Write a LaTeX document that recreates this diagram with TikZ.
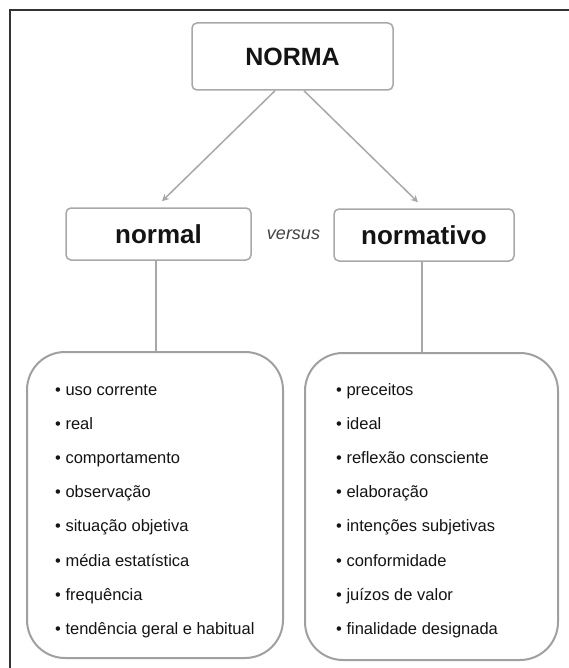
\documentclass[tikz,border=0pt]{standalone}
\usepackage{fontspec}
\setmainfont{Liberation Sans}
\usetikzlibrary{arrows.meta}
\definecolor{boxgray}{HTML}{A8A8A8}
\definecolor{listgray}{HTML}{A0A0A0}
\definecolor{framecol}{HTML}{333333}
\definecolor{textblack}{HTML}{141414}
\definecolor{versuscol}{HTML}{444444}
\begin{document}
\begin{tikzpicture}[x=1pt,y=-1pt,
  headbox/.style={draw=boxgray, line width=1.5pt, rounded corners=5pt, inner sep=0pt, text=textblack},
  listbox/.style={draw=listgray, line width=2pt, rounded corners=38pt, inner sep=0pt},
  item/.style={anchor=base west, inner sep=0pt, font=\fontsize{16.5}{19}\selectfont, text=textblack},
  conn/.style={draw=boxgray, line width=1.5pt},
  arr/.style={conn, -{Stealth[length=7pt,width=7pt]}}]
\useasboundingbox (0,0) rectangle (568,668);
\fill[white] (0,0) rectangle (568,668);
\draw[framecol, line width=2pt] (10,670) -- (10,10) -- (570,10);

\node[headbox, minimum width=201pt, minimum height=67pt, font=\fontsize{25}{30}\bfseries] (norma) at (292.5,56.5) {NORMA};
\node[headbox, minimum width=185pt, minimum height=52pt, font=\fontsize{26}{30}\bfseries] (normal) at (158.5,234) {normal};
\node[headbox, minimum width=180pt, minimum height=52pt, font=\fontsize{26}{30}\bfseries] (normativo) at (424,235) {normativo};
\node[inner sep=0pt, text=versuscol, font=\fontsize{18}{21}\itshape] (versus) at (293.5,235) {versus};

\node[listbox, minimum width=256pt, minimum height=306pt] (llist) at (155,505) {};
\node[listbox, minimum width=253pt, minimum height=307pt] (rlist) at (431.5,506.5) {};

\draw[arr] ([xshift=-17.5pt]norma.south) -- ([xshift=3.5pt,yshift=6pt]normal.north);
\draw[arr] ([xshift=11.5pt]norma.south) -- ([xshift=-6pt,yshift=6pt]normativo.north);
\draw[conn] ([xshift=-2.5pt]normal.south) -- ([xshift=-2.5pt]normal.south |- llist.north);
\draw[conn] ([xshift=-2pt]normativo.south) -- ([xshift=-2pt]normativo.south |- rlist.north);

\foreach \t [count=\i from 0] in {uso corrente, real, comportamento, observação, situação objetiva, média estatística, frequência, tendência geral e habitual}
  \node[item] (L\i) at (55, 395+34.2*\i) {\textbullet\ \t};
\foreach \t [count=\i from 0] in {preceitos, ideal, reflexão consciente, elaboração, intenções subjetivas, conformidade, juízos de valor, finalidade designada}
  \node[item] (R\i) at (336, 395+34.2*\i) {\textbullet\ \t};
\end{tikzpicture}
\end{document}
